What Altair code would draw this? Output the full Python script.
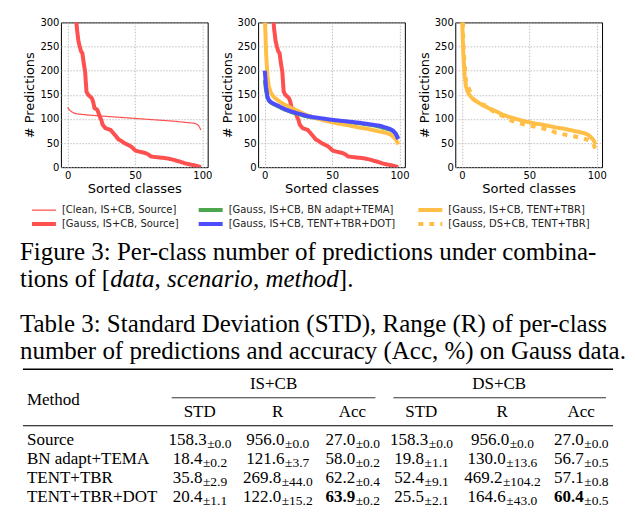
import altair as alt
import pandas as pd

# ---------------- per-class prediction counts (sorted classes)
clean_src_x = [0, 1, 2, 3, 4, 6, 8, 12, 15, 20, 25, 30, 40, 50, 60, 70, 80, 90, 94, 96, 97, 98, 99]
clean_src_y = [124, 120, 117, 115, 113, 111, 110, 109, 108, 107, 106, 105, 103, 101, 99, 97, 95, 92, 91, 89, 87, 82, 77]

gauss_src_x = [0, 1, 2, 3, 4, 5, 6, 7, 8, 9, 10, 11, 12, 13, 14, 15, 16, 18, 19, 20, 22, 23, 24, 25, 26,
               28, 30, 32, 35, 38, 40, 42, 45, 47, 49, 50, 52, 55, 58, 60, 62, 65, 68, 72, 76, 79, 81,
               84, 87, 90, 92, 95, 97, 99]
gauss_src_y = [957, 700, 560, 470, 400, 350, 318, 285, 262, 250, 240, 236, 215, 198, 157, 151, 148, 143,
               135, 122, 119, 112, 104, 98, 88, 81, 79, 77, 67, 57, 54, 50, 46, 43, 38, 35, 33, 31, 29,
               26, 22, 21, 20, 19, 17, 15, 13, 11, 8, 6, 5, 3, 1.5, 0]

bn_tema_x = [0, 1, 2, 3, 4, 5, 7, 10, 15, 20, 25, 30, 35, 40, 50, 60, 70, 80, 85, 90, 93, 95, 97, 99]
bn_tema_y = [180, 158, 145, 138, 135, 133, 130, 126, 119, 114, 110, 106, 103, 101, 97, 94, 91, 87, 84,
             80, 78, 75, 70, 60]

dot_x = [0, 1, 2, 3, 4, 5, 7, 10, 15, 20, 25, 30, 35, 40, 50, 60, 70, 80, 85, 90, 93, 95, 97, 99]
dot_y = [200, 165, 146, 139, 136, 134, 131, 127, 120, 115, 111, 107, 104, 102, 98, 95, 92, 88, 86, 82,
         79, 76, 70, 58]

tent_is_x = [0, 1, 2, 3, 4, 5, 6, 8, 10, 12, 15, 20, 25, 30, 35, 40, 45, 50, 55, 60, 65, 70, 75, 80,
             85, 90, 93, 95, 97, 98, 99]
tent_is_y = [318, 235, 190, 168, 158, 152, 148, 142, 138, 134, 129, 122, 116, 109, 104, 100, 96, 93,
             90, 88, 85, 82, 80, 77, 74, 71, 68, 64, 58, 54, 47]

tent_ds_x = [0, 1, 2, 3, 4, 5, 6, 8, 10, 12, 15, 19, 22, 25, 31, 37, 43, 50, 57, 65, 70, 77, 83, 89,
             93, 95, 97, 98, 99]
tent_ds_y = [505, 255, 212, 178, 168, 164, 157, 142, 137, 133, 130, 126, 118, 112, 105, 96, 91, 86,
             82, 77, 71, 67, 64, 60, 57, 54, 50, 45, 36]

S_CLEAN = "[Clean, IS+CB, Source]"
S_GSRC = "[Gauss, IS+CB, Source]"
S_BN = "[Gauss, IS+CB, BN adapt+TEMA]"
S_DOT = "[Gauss, IS+CB, TENT+TBR+DOT]"
S_TIS = "[Gauss, IS+CB, TENT+TBR]"
S_TDS = "[Gauss, DS+CB, TENT+TBR]"

# legend order (column-major, 2 rows x 3 columns)
series_order = [S_CLEAN, S_GSRC, S_BN, S_DOT, S_TIS, S_TDS]
series_colors = ["#ff5050", "#ff5050", "#4da64d", "#4d4dff", "#ffbf47", "#ffbf47"]
series_widths = [1.2, 4, 4, 4, 4, 4]
series_dash = [[1, 0], [1, 0], [1, 0], [1, 0], [1, 0], [5, 6]]

series_data = {
    S_CLEAN: (clean_src_x, clean_src_y),
    S_GSRC: (gauss_src_x, gauss_src_y),
    S_BN: (bn_tema_x, bn_tema_y),
    S_DOT: (dot_x, dot_y),
    S_TIS: (tent_is_x, tent_is_y),
    S_TDS: (tent_ds_x, tent_ds_y),
}
panels = {
    1: [S_CLEAN, S_GSRC],
    2: [S_GSRC, S_BN, S_TIS, S_DOT],
    3: [S_TIS, S_TDS],
}

rows = []
for pid, slist in panels.items():
    for s in slist:
        xs, ys = series_data[s]
        for xv, yv in zip(xs, ys):
            rows.append({"panel": pid, "series": s, "x": xv, "y": yv})
lines_df = pd.DataFrame(rows)

# ---------------- table values
methods = ["Source", "BN adapt+TEMA", "TENT+TBR", "TENT+TBR+DOT"]
is_std = [158.3, 18.4, 35.8, 20.4]
is_std_pm = [0.0, 0.2, 2.9, 1.1]
is_r = [956.0, 121.6, 269.8, 122.0]
is_r_pm = [0.0, 3.7, 44.0, 15.2]
is_acc = [27.0, 58.0, 62.2, 63.9]
is_acc_pm = [0.0, 0.2, 0.4, 0.2]
ds_std = [158.3, 19.8, 52.4, 25.5]
ds_std_pm = [0.0, 1.1, 9.1, 2.1]
ds_r = [956.0, 130.0, 469.2, 164.6]
ds_r_pm = [0.0, 13.6, 104.2, 43.0]
ds_acc = [27.0, 56.7, 57.1, 60.4]
ds_acc_pm = [0.0, 0.5, 0.8, 0.5]
bold_cells = [(3, 2), (3, 5)]  # (row, col)

col_heads = ["STD", "R", "Acc", "STD", "R", "Acc"]
group_heads = ["IS+CB", "DS+CB"]

fig_caption_1 = "Figure 3: Per-class number of predictions under combina-"
fig_caption_2 = ["tions of [", "data", ",", "scenario", ",", "method", "]."]
fig_caption_2_italic = [False, True, False, True, False, True, False]
tab_caption = ["Table 3: Standard Deviation (STD), Range (R) of per-class",
               "number of predictions and accuracy (Acc, %) on Gauss data."]

# ---------------- layout (page pixel coordinates for the legend/text/table block)
X0, W = 61, 550          # block origin coincides with the first panel's plot origin
Y0, H = 194, 296
CAP_X = 20
legend_sw_x = [32, 32, 199, 199, 419, 419]
legend_sw_len = 24
legend_y = [208, 222, 208, 222, 208, 222]
legend_lab_gap = 6
fig_cap_y = [258, 285]
fig_cap2_x = [20, 110.3, 154.7, 167.2, 253.3, 265.8, 339.4]
tab_cap_y = [330, 357]
col_centers = [200, 278, 353, 422, 503, 582]
row_base = [443, 462, 481, 500]
group_centers = [274, 500]
group_y = 387
head_y = 415
method_y = 403
TAB_X = 27
MAIN_FS, SUB_FS = 17, 13.5
rules = [  # x1, x2, y, width
    (23, 614, 367.5, 1.5),
    (172, 376, 396, 0.8),
    (394, 607, 396, 0.8),
    (23, 614, 424, 1.1),
]

SERIF = "Liberation Serif"
SANS = "DejaVu Sans"


def tw(s, fs):
    w = {".": 0.25, "±": 0.549}
    return sum(w.get(c, 0.5) for c in s) * fs


# ---------------- panels
color_scale = alt.Scale(domain=series_order, range=series_colors)
width_scale = alt.Scale(type="ordinal", domain=series_order, range=series_widths)
dash_scale = alt.Scale(domain=series_order, range=series_dash)

xenc = alt.X("x:Q", scale=alt.Scale(domain=[-4.95, 103.95], nice=False, zero=False),
             axis=alt.Axis(values=[0, 50, 100], title="Sorted classes", labelPadding=3,
                           titlePadding=2))
yenc = alt.Y("y:Q", scale=alt.Scale(domain=[0, 300], nice=False),
             axis=alt.Axis(values=[0, 50, 100, 150, 200, 250, 300], title="# Predictions",
                           labelPadding=2, titlePadding=3))


def make_panel(pid):
    layers = []
    for s in panels[pid]:
        layers.append(
            alt.Chart(lines_df)
            .transform_filter((alt.datum.panel == pid) & (alt.datum.series == s))
            .mark_line(clip=True, strokeCap="butt", strokeJoin="round")
            .encode(
                x=xenc, y=yenc,
                color=alt.Color("series:N", scale=color_scale, legend=None),
                strokeWidth=alt.StrokeWidth("series:N", scale=width_scale, legend=None),
                strokeDash=alt.StrokeDash("series:N", scale=dash_scale, legend=None),
            )
        )
    return alt.layer(*layers).properties(width=147, height=145)


top = alt.hconcat(make_panel(1), make_panel(2), make_panel(3), spacing=7.5)

# ---------------- legend + caption + table block
leg_df = pd.DataFrame({
    "series": series_order,
    "lx1": legend_sw_x,
    "lx2": [v + legend_sw_len for v in legend_sw_x],
    "lt": [v + legend_sw_len + legend_lab_gap for v in legend_sw_x],
    "ly": legend_y,
})

txt_rows = []
txt_rows.append({"t": fig_caption_1, "px": CAP_X, "py": fig_cap_y[0], "kind": "cap"})
for seg, it, xx in zip(fig_caption_2, fig_caption_2_italic, fig_cap2_x):
    txt_rows.append({"t": seg, "px": xx, "py": fig_cap_y[1], "kind": "capit" if it else "cap"})
for line, yy in zip(tab_caption, tab_cap_y):
    txt_rows.append({"t": line, "px": CAP_X, "py": yy, "kind": "cap"})
txt_rows.append({"t": "Method", "px": TAB_X, "py": method_y, "kind": "left"})
for g, cx in zip(group_heads, group_centers):
    txt_rows.append({"t": g, "px": cx, "py": group_y, "kind": "center"})
for h, cx in zip(col_heads, col_centers):
    txt_rows.append({"t": h, "px": cx, "py": head_y, "kind": "center"})
for m, yy in zip(methods, row_base):
    txt_rows.append({"t": m, "px": TAB_X, "py": yy, "kind": "left"})

cols = [(is_std, is_std_pm), (is_r, is_r_pm), (is_acc, is_acc_pm),
        (ds_std, ds_std_pm), (ds_r, ds_r_pm), (ds_acc, ds_acc_pm)]
for ci, (vals, pms) in enumerate(cols):
    for ri, (v, pm) in enumerate(zip(vals, pms)):
        main = f"{v:.1f}"
        sub = f"±{pm:.1f}"
        anchor = col_centers[ci] + (tw(main, MAIN_FS) - tw(sub, SUB_FS)) / 2
        bold = (ri, ci) in bold_cells
        txt_rows.append({"t": main, "px": anchor, "py": row_base[ri],
                         "kind": "mainb" if bold else "main"})
        txt_rows.append({"t": sub, "px": anchor + 0.5, "py": row_base[ri], "kind": "sub"})
txt_df = pd.DataFrame(txt_rows)
rule_df = pd.DataFrame(rules, columns=["x1", "x2", "ry", "w"])

sx = alt.Scale(domain=[X0, X0 + W], nice=False, zero=False)
sy = alt.Scale(domain=[Y0, Y0 + H], nice=False, zero=False, reverse=True)


def text_layer(kind, **mk):
    return (alt.Chart(txt_df).transform_filter(alt.datum.kind == kind)
            .mark_text(font=SERIF, color="black", baseline="alphabetic", **mk)
            .encode(x=alt.X("px:Q", scale=sx, axis=None), y=alt.Y("py:Q", scale=sy, axis=None),
                    text="t:N"))


legend_swatches = alt.Chart(leg_df).mark_rule(strokeCap="butt").encode(
    x=alt.X("lx1:Q", scale=sx, axis=None), x2="lx2:Q",
    y=alt.Y("ly:Q", scale=sy, axis=None),
    color=alt.Color("series:N", scale=color_scale, legend=None),
    strokeWidth=alt.StrokeWidth("series:N", scale=width_scale, legend=None),
    strokeDash=alt.StrokeDash("series:N", scale=dash_scale, legend=None),
)
legend_labels = alt.Chart(leg_df).mark_text(
    font=SANS, fontSize=10, color="#222222", align="left", baseline="middle").encode(
    x=alt.X("lt:Q", scale=sx, axis=None), y=alt.Y("ly:Q", scale=sy, axis=None),
    text="series:N")

bottom = alt.layer(
    legend_swatches,
    legend_labels,
    text_layer("cap", fontSize=25, align="left"),
    text_layer("capit", fontSize=25, align="left", fontStyle="italic"),
    text_layer("left", fontSize=MAIN_FS, align="left"),
    text_layer("center", fontSize=MAIN_FS, align="center"),
    text_layer("main", fontSize=MAIN_FS, align="right"),
    text_layer("mainb", fontSize=MAIN_FS, align="right", fontWeight="bold"),
    text_layer("sub", fontSize=SUB_FS, align="left", dy=3),
    alt.Chart(rule_df).mark_rule(color="black").encode(
        x=alt.X("x1:Q", scale=sx, axis=None), x2="x2:Q",
        y=alt.Y("ry:Q", scale=sy, axis=None),
        strokeWidth=alt.StrokeWidth("w:Q", scale=None)),
).properties(width=W, height=H, view=alt.ViewBackground(stroke=None))

chart = (
    alt.vconcat(top, bottom, spacing=0)
    .resolve_scale(x="independent", y="independent")
    .properties(padding={"left": 12, "top": 8, "right": 0, "bottom": 0})
    .configure_view(stroke="black", strokeWidth=1)
    .configure_axis(grid=True, gridColor="#b0b0b0", gridDash=[1.5, 1.5], gridWidth=0.8,
                    domain=False, ticks=False, labelFont=SANS, labelFontSize=10,
                    labelColor="black", titleFont=SANS, titleFontSize=13,
                    titleFontWeight="normal", titleColor="black")
)

chart.save("out.html", embed_options={"renderer": "svg", "actions": False})
